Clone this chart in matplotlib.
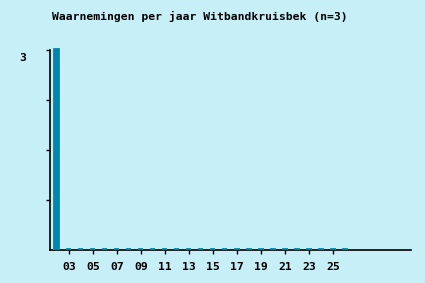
import matplotlib
matplotlib.use('Agg')
import matplotlib.pyplot as plt
import matplotlib.transforms as mtransforms
import numpy as np

years = list(range(2, 27))
counts = [3] + [0] * 24
tick_years = list(range(3, 26, 2))
tick_labels = ['%02d' % y for y in tick_years]
title = 'Waarnemingen per jaar Witbandkruisbek (n=3)'

bg = '#c6eff8'
bar_color = '#0088aa'

fig = plt.figure(figsize=(4.25, 2.83), dpi=100, facecolor=bg)
ax = fig.add_axes([50 / 425, 1 - 250 / 283, 361 / 425, 200 / 283], facecolor=bg)

# zero-height bars still show as a small dash thanks to the edge line,
# lifted a pixel so they sit on top of the axis line
bars = ax.bar(years, counts, width=0.42, color=bar_color, edgecolor=bar_color,
              linewidth=1.3, zorder=3, clip_on=False)
lift = mtransforms.offset_copy(ax.transData, fig=fig, x=0, y=1.0, units='dots')
for b in bars:
    b.set_transform(lift)

ax.set_xlim(1.42, 31.5)
ax.set_ylim(0, 3)
for s in ['top', 'right']:
    ax.spines[s].set_visible(False)
for s in ['left', 'bottom']:
    ax.spines[s].set_linewidth(1.2)
    ax.spines[s].set_color('black')

font = dict(fontfamily='DejaVu Sans Mono', fontweight='bold', fontsize=8.2)
ax.set_xticks(tick_years)
ax.set_xticklabels(tick_labels, **font)
ax.set_yticks([0.75, 1.5, 2.25, 3])
ax.set_yticklabels(['', '', '', '3'], **font)
ax.tick_params(axis='x', length=3, width=1, pad=6)
ax.tick_params(axis='y', length=3, width=1, pad=14)
top_label = ax.get_yticklabels()[-1]
top_label.set_va('top')
top_label.set_transform(top_label.get_transform() +
                        mtransforms.ScaledTranslation(0, -3 / 100, fig.dpi_scale_trans))

fig.text(200 / 425, 1 - 16 / 283, title, ha='center', va='center', **font)

fig.savefig('out.png', dpi=100, facecolor=bg)
